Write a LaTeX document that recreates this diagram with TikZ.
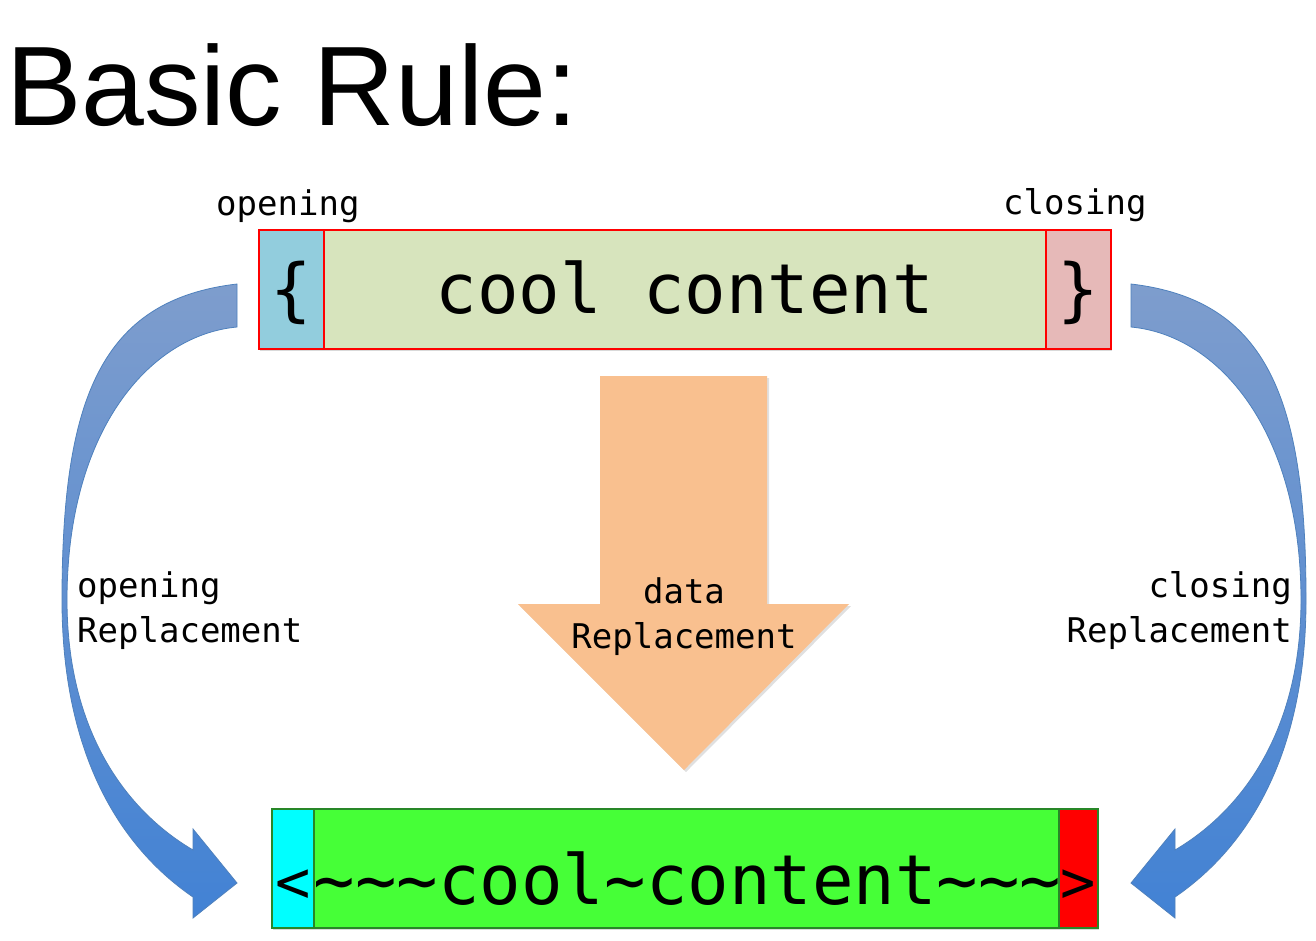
\documentclass[tikz,border=0pt]{standalone}
\usepackage{fontspec}
\newfontfamily\titlefont{Liberation Sans}
\newfontfamily\monofont{DejaVu Sans Mono}
\definecolor{topblue}{RGB}{146,205,221}
\definecolor{topgreen}{RGB}{215,228,189}
\definecolor{toppink}{RGB}{230,185,184}
\definecolor{botcyan}{RGB}{0,255,255}
\definecolor{botgreen}{RGB}{70,255,55}
\definecolor{botred}{RGB}{255,0,0}
\definecolor{botedge}{RGB}{40,135,40}
\definecolor{arrowtop}{RGB}{126,157,205}
\definecolor{arrowbot}{RGB}{66,130,212}
\definecolor{arrowedge}{RGB}{79,129,189}
\definecolor{orangefill}{RGB}{249,192,143}
\newcommand{\narrowglyph}[1]{\raisebox{2pt}{\scalebox{0.85}{#1}}}
\begin{document}
\begin{tikzpicture}[x=1pt,y=-1pt,
  bigtext/.style={font=\monofont\fontsize{69}{69}\selectfont},
  smalltext/.style={font=\monofont\fontsize{34}{45}\selectfont, inner sep=0pt},
  topcell/.style={draw=red, line width=1.6pt, inner sep=0pt, minimum height=119pt,
     anchor=north west, bigtext, text height=48pt, text depth=0pt},
  botcell/.style={draw=botedge, line width=1.5pt, inner sep=0pt, minimum height=119pt,
     anchor=north west, bigtext, text height=72pt, text depth=0pt},
  barshadow/.style={fill=black, opacity=0.15},
  bluearrow/.style={draw=arrowedge, line width=0.8pt, top color=arrowtop, bottom color=arrowbot}
]
\useasboundingbox (0,0) rectangle (1316,940);
\fill[white] (0,0) rectangle (1316,940);

% title
\node[anchor=base west, inner sep=0pt, font=\titlefont\fontsize{113}{113}\selectfont] (title) at (6,125) {Basic Rule:};

% orange arrow
\path[fill=black, opacity=0.12]
  (602,378) -- (769,378) -- (769,606) -- (851,606) -- (686,772) -- (520,606) -- (602,606) -- cycle;
\path[fill=orangefill]
  (600,376) -- (767,376) -- (767,604) -- (849,604) -- (684,770) -- (518,604) -- (600,604) -- cycle;

% left curved arrow
\path[bluearrow]
  (237,284) .. controls (100,300) and (62,400) .. (62,600)
  .. controls (62,740) and (110,840) .. (193,897)
  -- (193,918) -- (237,883) -- (193,829) -- (193,850)
  .. controls (125,810) and (67,730) .. (67,600)
  .. controls (67,430) and (150,335) .. (237,327) -- cycle;

% right curved arrow (mirror)
\begin{scope}[shift={(1368,0)}, xscale=-1]
\path[bluearrow]
  (237,284) .. controls (100,300) and (62,400) .. (62,600)
  .. controls (62,740) and (110,840) .. (193,897)
  -- (193,918) -- (237,883) -- (193,829) -- (193,850)
  .. controls (125,810) and (67,730) .. (67,600)
  .. controls (67,430) and (150,335) .. (237,327) -- cycle;
\end{scope}

% shadows of the bars
\fill[barshadow] (260,231) rectangle (1112,351);
\fill[barshadow] (273,810) rectangle (1099,930);

% top bar
\node[topcell, fill=topblue, minimum width=65pt] (open) at (258,229) {\{};
\node[topcell, fill=topgreen, minimum width=722pt] (content) at (323,229) {cool content};
\node[topcell, fill=toppink, minimum width=65pt] (close) at (1045,229) {\}};

% bottom bar
\node[botcell, fill=botcyan, minimum width=42pt] (ropen) at (271,808) {\narrowglyph{<}};
\node[botcell, fill=botgreen, minimum width=745pt] (rcontent) at (313,808) {\char`\~\char`\~\char`\~cool\char`\~content\char`\~\char`\~\char`\~};
\node[botcell, fill=botred, minimum width=39pt] (rclose) at (1058,808) {\narrowglyph{>}};

% labels
\node[smalltext, anchor=base west] (lopen) at (216,215) {opening};
\node[smalltext, anchor=base west] (lclose) at (1003,214) {closing};
\node[smalltext, anchor=north west, align=left] (lopenrep) at (77,571) {opening\\Replacement};
\node[smalltext, anchor=north east, align=right] (lcloserep) at (1292,571) {closing\\Replacement};
\node[smalltext, anchor=north, align=center] (ldata) at (684,577) {data\\Replacement};
\end{tikzpicture}
\end{document}
